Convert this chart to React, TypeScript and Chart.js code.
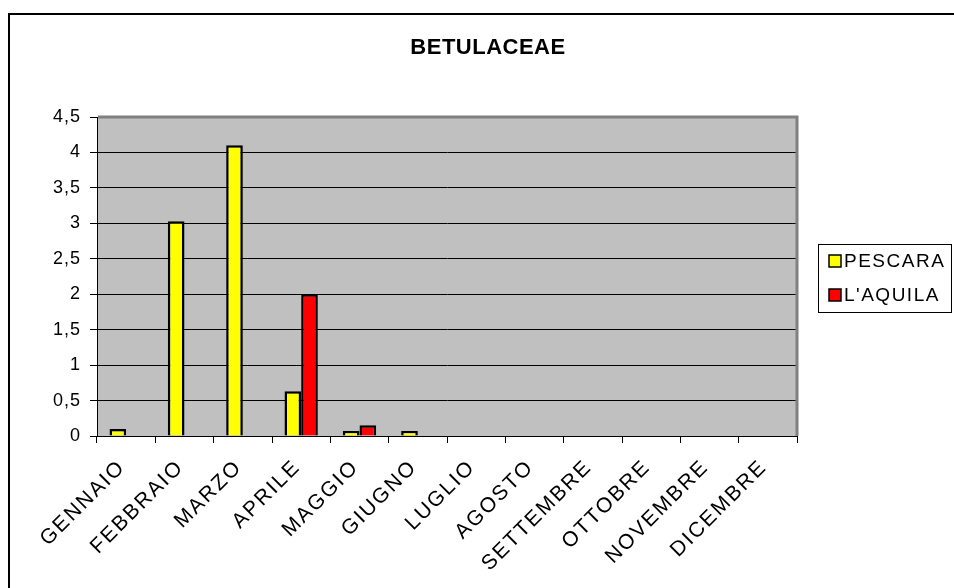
import { useEffect, useRef } from "react";
import { Chart, registerables } from "chart.js";

Chart.register(...registerables);

// Monthly pollen concentration, Betulaceae family
const TITLE = "BETULACEAE";
const MONTHS = [
  "GENNAIO",
  "FEBBRAIO",
  "MARZO",
  "APRILE",
  "MAGGIO",
  "GIUGNO",
  "LUGLIO",
  "AGOSTO",
  "SETTEMBRE",
  "OTTOBRE",
  "NOVEMBRE",
  "DICEMBRE",
];
const SERIES_NAMES = ["PESCARA", "L'AQUILA"];
const PESCARA = [0.1, 3.03, 4.1, 0.63, 0.07, 0.07, null, null, null, null, null, null];
const AQUILA = [null, null, null, 2.0, 0.15, null, null, null, null, null, null, null];
const SERIES_COLORS = ["#FFFF00", "#FF0000"];
const Y_TICK_LABELS = ["0", "0,5", "1", "1,5", "2", "2,5", "3", "3,5", "4", "4,5"];

const W = 954;
const H = 588;
const FONT = '"Liberation Sans", Arial, sans-serif';
const X_SPACING = "2px";
const Y_SPACING = "1px";

const decorPlugin = {
  id: "decor",
  beforeUpdate(chart: any) {
    chart.ctx.letterSpacing = X_SPACING;
  },
  beforeDraw(chart: any) {
    const { ctx, chartArea } = chart;
    const { left, top, right, bottom } = chartArea;
    ctx.save();
    ctx.fillStyle = "#ffffff";
    ctx.fillRect(0, 0, W, H);
    // outer frame (left and top edges)
    ctx.strokeStyle = "#000000";
    ctx.lineWidth = 2;
    ctx.beginPath();
    ctx.moveTo(9, H + 5);
    ctx.lineTo(9, 14);
    ctx.lineTo(W + 5, 14);
    ctx.stroke();
    // plot area background
    ctx.fillStyle = "#C0C0C0";
    ctx.fillRect(left, top, right - left, bottom - top);
    ctx.restore();
    // month labels are drawn before the bars with wider spacing
    ctx.letterSpacing = X_SPACING;
  },
  afterDatasetsDraw(chart: any) {
    // value labels (y ticks, z = 1) are drawn after the bars
    chart.ctx.letterSpacing = Y_SPACING;
  },
  afterDraw(chart: any) {
    const { ctx, chartArea } = chart;
    const { left, top, right, bottom } = chartArea;
    ctx.save();
    // plot area border, top and right
    ctx.strokeStyle = "#808080";
    ctx.lineWidth = 3;
    ctx.beginPath();
    ctx.moveTo(left + 1, top);
    ctx.lineTo(right, top);
    ctx.lineTo(right, bottom);
    ctx.stroke();

    // title
    ctx.letterSpacing = "0.5px";
    ctx.fillStyle = "#000000";
    ctx.font = `bold 22px ${FONT}`;
    ctx.textAlign = "center";
    ctx.textBaseline = "middle";
    ctx.fillText(TITLE, 488, 48);

    // legend
    ctx.letterSpacing = "1.5px";
    ctx.lineWidth = 1;
    ctx.strokeStyle = "#000000";
    ctx.strokeRect(818.5, 244.5, 133, 68);
    ctx.font = `19px ${FONT}`;
    ctx.textAlign = "left";
    SERIES_NAMES.forEach((name, i) => {
      const y = 255 + i * 34;
      ctx.fillStyle = SERIES_COLORS[i];
      ctx.fillRect(829, y, 12, 12);
      ctx.lineWidth = 1.5;
      ctx.strokeRect(829, y, 12, 12);
      ctx.fillStyle = "#000000";
      ctx.fillText(name, 844, y + 6.5);
    });
    ctx.restore();
    ctx.letterSpacing = X_SPACING;
  },
};

export default function App() {
  const canvasRef = useRef<HTMLCanvasElement | null>(null);

  useEffect(() => {
    const canvas = canvasRef.current;
    if (!canvas) return;
    const chart = new Chart(canvas, {
      type: "bar",
      data: {
        labels: MONTHS,
        datasets: [
          {
            label: SERIES_NAMES[0],
            data: PESCARA,
            backgroundColor: SERIES_COLORS[0],
            borderColor: "#000000",
            borderWidth: 2.5,
            categoryPercentage: 2 / 3.5,
            barPercentage: 1,
          },
          {
            label: SERIES_NAMES[1],
            data: AQUILA,
            backgroundColor: SERIES_COLORS[1],
            borderColor: "#000000",
            borderWidth: 2.5,
            categoryPercentage: 2 / 3.5,
            barPercentage: 1,
          },
        ],
      },
      options: {
        responsive: false,
        animation: false,
        devicePixelRatio: 1,
        layout: { padding: { top: 117, right: 157, left: 0, bottom: 0 } },
        plugins: {
          legend: { display: false },
          title: { display: false },
          tooltip: { enabled: false },
        },
        scales: {
          x: {
            grid: {
              display: true,
              drawOnChartArea: false,
              drawTicks: true,
              tickLength: 7,
              color: "#000000",
              offset: true,
            },
            border: { display: true, color: "#000000", width: 1 },
            ticks: {
              color: "#000000",
              font: { family: FONT, size: 21 },
              minRotation: 45,
              maxRotation: 45,
              autoSkip: false,
              padding: 12,
              labelOffset: -4,
            },
            afterFit(scale: any) {
              scale.height = 152;
            },
          },
          y: {
            min: 0,
            max: 4.5,
            grid: {
              color: "#000000",
              lineWidth: 1,
              tickLength: 7,
              drawTicks: true,
            },
            border: { display: true, color: "#000000", width: 1 },
            ticks: {
              z: 1,
              stepSize: 0.5,
              color: "#000000",
              font: { family: FONT, size: 18 },
              padding: 9,
              callback: (_v: any, i: number) => Y_TICK_LABELS[i],
            },
            afterFit(scale: any) {
              scale.width = 97;
            },
          },
        },
      },
      plugins: [decorPlugin],
    });
    return () => chart.destroy();
  }, []);

  return (
    <div style={{ position: "fixed", left: 0, top: 0, width: W, height: H }}>
      <canvas ref={canvasRef} width={W} height={H} style={{ display: "block" }} />
    </div>
  );
}
